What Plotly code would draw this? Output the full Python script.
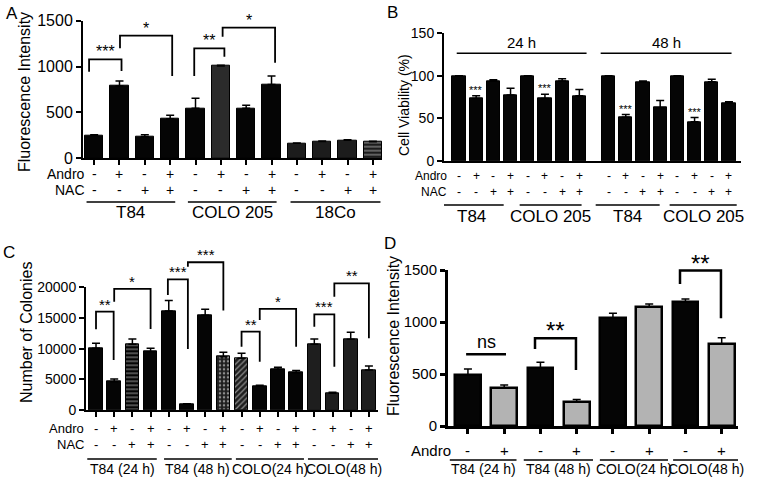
import plotly.graph_objects as go

W, H = 758, 486
FONT = "Liberation Sans, Arial, sans-serif"

# ---------------- data ----------------
# A: ROS fluorescence
a_mean = [248, 788, 236, 430, 545, 1005, 545, 805, 164, 183, 197, 180]
a_err = [8, 55, 22, 40, 110, 8, 32, 92, 4, 5, 4, 5]
a_andro = ["-", "+", "-", "+"] * 3
a_nac = ["-", "-", "+", "+"] * 3
a_groups = ["T84", "COLO 205", "18Co"]
a_ticks = [0, 500, 1000, 1500]
a_brackets = [(-0.2, 1.08, 1079, 944, 952, "***"),
              (1.02, 3.08, 1337, 1199, 897, "*"),
              (3.95, 5.14, 1199, 897, 1107, "**"),
              (5.07, 7.14, 1424, 1326, 1042, "*")]

# B: cell viability
b_mean = [100, 73.5, 94, 77.5, 100, 73.5, 94, 76.5,
          100, 51.5, 93, 62.5, 100, 46, 93, 68]
b_err = [0, 3, 1.5, 8, 0, 5, 2.5, 7.5, 0, 3, 1, 8.5, 0, 5, 3, 1.5]
b_andro = ["-", "+", "-", "+"] * 4
b_nac = ["-", "-", "+", "+"] * 4
b_groups = ["T84", "COLO 205", "T84", "COLO 205"]
b_times = ["24 h", "48 h"]
b_sig = [1, 5, 9, 13]
b_ticks = [0, 50, 100, 150]

# C: colony numbers
c_mean = [10050, 4620, 10700, 9510, 16140, 920, 15430, 8700,
          8420, 3910, 6630, 6090, 10710, 2720, 11520, 6520]
c_err = [820, 430, 870, 540, 1690, 110, 980, 700,
         820, 110, 330, 330, 870, 160, 1140, 650]
c_andro = ["-", "+", "-", "+"] * 4
c_nac = ["-", "-", "+", "+"] * 4
c_groups = ["T84 (24 h)", "T84 (48 h)", "COLO(24 h)", "COLO(48 h)"]
c_ticks = [0, 5000, 10000, 15000, 20000]
c_brackets = [(0, 0.97, 16030, 13150, 8150, "**"),
              (1.0, 3.0, 19730, 17660, 13200, "*"),
              (3.95, 5.05, 21300, 18750, 9950, "***"),
              (5.05, 7.0, 24080, 23370, 16200, "***"),
              (8.0, 9.0, 12770, 10330, 7880, "**"),
              (9.0, 11.0, 16470, 14670, 10330, "*"),
              (12.0, 13.1, 15600, 13590, 7070, "***"),
              (13.1, 15.0, 20650, 18480, 11690, "**")]

# D: fluorescence, Andro only
d_mean = [492, 362, 561, 234, 1035, 1141, 1195, 785]
d_err = [57, 32, 51, 22, 48, 32, 26, 64]
d_andro = ["-", "+"] * 4
d_groups = ["T84 (24 h)", "T84 (48 h)", "COLO(24 h)", "COLO(48 h)"]
d_ticks = [0, 500, 1000, 1500]
d_brackets = [(-0.05, 1.05, 690, 690, 690, "ns"),
              (1.85, 2.98, 843, 740, 538, "**"),
              (5.85, 6.98, 1494, 1365, 1035, "**")]

fig = go.Figure()


def px_y(p):
    return 1 - p / H


def add_bars(xa, ya, x, mean, err, colors, width, lw=1, pshape=None,
             pfg=None, pbg=None):
    marker = dict(color=colors, line=dict(color="black", width=lw))
    if pshape:
        marker["pattern"] = dict(shape=pshape, fgcolor=pfg, bgcolor=pbg,
                                 fillmode="overlay", size=4, solidity=0.3)
    fig.add_trace(go.Bar(
        x=x, y=mean, width=width, marker=marker, xaxis=xa, yaxis=ya,
        error_y=dict(type="data", array=err, arrayminus=[0] * len(err),
                     symmetric=False, color="black", thickness=1.5, width=4),
        showlegend=False, hoverinfo="skip",
    ))


def add_bracket(xa, ya, ymax, br, size, lw=1.8, shift=-3):
    x0, x1, yt, yl, yr, txt = br
    yd = f"{ya} domain"
    fig.add_shape(type="path", xref=xa, yref=yd,
                  path=f"M {x0},{yl / ymax} L {x0},{yt / ymax} "
                       f"L {x1},{yt / ymax} L {x1},{yr / ymax}",
                  line=dict(color="black", width=lw))
    fig.add_annotation(x=(x0 + x1) / 2, y=yt / ymax, xref=xa, yref=yd,
                       text=txt, showarrow=False, yanchor="bottom",
                       yshift=shift, font=dict(size=size, color="black"))


def add_rows(xa, x, rows, names, ys, size, name_x):
    for vals, name, yp in zip(rows, names, ys):
        fig.add_annotation(x=name_x, y=px_y(yp), xref=f"{xa} domain",
                           yref="paper", text=name, showarrow=False,
                           xanchor="right", yanchor="middle", borderpad=0,
                           font=dict(size=size, color="black"))
        for xi, v in zip(x, vals):
            fig.add_annotation(x=xi, y=px_y(yp), xref=xa, yref="paper",
                               text=v, showarrow=False, yanchor="middle",
                               borderpad=0,
                               font=dict(size=size, color="black"))


def add_groups(xa, spans, labels, line_y, text_y, size):
    for (s, e), lab in zip(spans, labels):
        fig.add_shape(type="line", xref=xa, yref="paper", x0=s, x1=e,
                      y0=px_y(line_y), y1=px_y(line_y),
                      line=dict(color="black", width=1.5))
        fig.add_annotation(x=(s + e) / 2, y=px_y(text_y), xref=xa,
                           yref="paper", text=lab, showarrow=False,
                           yanchor="middle", borderpad=0,
                           font=dict(size=size, color="black"))


# ---------- Panel A ----------
a_x = list(range(len(a_mean)))
a_col = ["#050505"] * 5 + ["#2b2b2b"] + ["#050505"] * 2 + ["#1c1c1c"] * 4
add_bars("x", "y", a_x, a_mean, a_err, a_col, 0.72,
         pshape=[""] * 11 + ["-"], pfg=["#4a4a4a"] * 12, pbg=a_col)
for br in a_brackets:
    add_bracket("x", "y", 1500, br, 16)
add_rows("x", a_x, [a_andro, a_nac], ["Andro", "NAC"], [174, 190], 14, 0.01)
add_groups("x", [(-0.3, 3.2), (3.7, 7.2), (7.75, 11.3)], a_groups, 202, 212, 17)

# ---------- Panel B ----------
b_x = [i + (0.7 if i >= 8 else 0) for i in range(len(b_mean))]
add_bars("x2", "y2", b_x, b_mean, b_err, ["#050505"] * 16, 0.77)
for i in b_sig:
    fig.add_annotation(x=b_x[i], y=b_mean[i] + b_err[i], xref="x2", yref="y2",
                       text="***", showarrow=False, yanchor="bottom",
                       yshift=-2, font=dict(size=11, color="black"))
for (s, e), lab in zip([(-0.13, 7.42), (8.24, 15.85)], b_times):
    fig.add_shape(type="line", xref="x2", yref="y2", x0=s, x1=e,
                  y0=126.5, y1=126.5, line=dict(color="black", width=1.5))
    fig.add_annotation(x=(s + e) / 2, y=126.5, xref="x2", yref="y2",
                       text=lab, showarrow=False, yanchor="bottom",
                       font=dict(size=15, color="black"))
add_rows("x2", b_x, [b_andro, b_nac], ["Andro", "NAC"], [176, 192], 12, 0.015)
add_groups("x2", [(-1.12, 2.6), (3.53, 7.13), (7.95, 11.67), (12.25, 16.15)],
           b_groups, 205, 216, 17)

# ---------- Panel C ----------
c_x = list(range(len(c_mean)))
c_col = ["#050505"] * 7 + ["#1e1e1e"] * 2 + ["#050505"] * 3 + ["#1e1e1e"] * 4
c_pat = ["", "", "-", "", "", "", "", ".", "/", "", "", "", "", "", "", ""]
c_fg = ["#444"] * 7 + ["#3a3a3a"] + ["#444"] * 8
add_bars("x3", "y3", c_x, c_mean, c_err, c_col, 0.75,
         pshape=c_pat, pfg=c_fg, pbg=c_col)
for br in c_brackets:
    add_bracket("x3", "y3", 20000, br, 15)
add_rows("x3", c_x, [c_andro, c_nac], ["Andro", "NAC"], [428, 444], 13, -0.003)
add_groups("x3", [(-0.48, 3.34), (3.74, 7.46), (7.69, 11.43), (11.65, 15.6)],
           c_groups, 459, 469, 14)

# ---------- Panel D ----------
d_x = list(range(len(d_mean)))
d_col = ["#050505", "#b3b3b3"] * 4
add_bars("x4", "y4", d_x, d_mean, d_err, d_col, 0.71, lw=2.5)
for br in d_brackets:
    add_bracket("x4", "y4", 1500, br, 24 if br[5] == "**" else 18, lw=2.5,
                shift=-8 if br[5] == "**" else 0)
add_rows("x4", d_x, [d_andro], ["Andro"], [450], 15, 0.013)
add_groups("x4", [(-0.5, 1.34), (1.54, 3.45), (3.64, 5.52), (5.66, 7.45)],
           d_groups, 460, 469, 14)


# ---------- axes ----------
def xaxis(dom, rng, ticks, anchor, lw=2):
    return dict(domain=[dom[0] / W, dom[1] / W], range=rng, anchor=anchor,
                showgrid=False, zeroline=False, showline=True,
                linecolor="black", linewidth=lw, automargin=False,
                ticks="outside" if ticks else "", ticklen=5, tickwidth=lw,
                tickcolor="black", tickvals=ticks, showticklabels=False,
                fixedrange=True)


def yaxis(top, bot, rng, tickvals, size, anchor, lw=2):
    return dict(domain=[px_y(bot), px_y(top)], range=rng, anchor=anchor,
                showgrid=False, zeroline=False, showline=True,
                linecolor="black", linewidth=lw, ticks="outside", ticklen=5,
                tickwidth=lw, tickcolor="black", tickvals=tickvals,
                ticktext=[str(v) for v in tickvals], automargin=False,
                tickfont=dict(size=size, color="black"), fixedrange=True)


fig.update_layout(
    xaxis=xaxis((83, 382), [-0.44, 11.36], a_x, "y"),
    yaxis=yaxis(20.7, 158.3, [0, 1500], a_ticks, 16, "x"),
    xaxis2=xaxis((444, 741), [-0.87, 16.4], None, "y2"),
    yaxis2=yaxis(33.3, 161, [0, 150], b_ticks, 14, "x2"),
    xaxis3=xaxis((86, 378), [-0.55, 15.5], c_x, "y3"),
    yaxis3=yaxis(287.3, 410, [0, 20000], c_ticks, 14, "x3"),
    xaxis4=xaxis((448, 738), [-0.55, 7.45], d_x, "y4", lw=3),
    yaxis4=yaxis(270, 426, [0, 1500], d_ticks, 15, "x4", lw=3),
)

# y titles and panel letters
for txt, x, y, size in [("Fluorescence Intensity", 24, 92, 16),
                        ("Cell Viability (%)", 404, 105, 14),
                        ("Number of Colonies", 26, 333, 16),
                        ("Fluorescence Intensity", 393, 336, 16)]:
    fig.add_annotation(x=x / W, y=px_y(y), xref="paper", yref="paper",
                       text=txt, textangle=-90, showarrow=False,
                       xanchor="center", yanchor="middle",
                       font=dict(size=size, color="black"))
for txt, x, y in [("A", 12, 13), ("B", 392, 12), ("C", 9, 252), ("D", 390, 243)]:
    fig.add_annotation(x=x / W, y=px_y(y), xref="paper", yref="paper",
                       text=txt, showarrow=False, xanchor="center",
                       yanchor="middle", font=dict(size=17, color="black"))

fig.update_layout(
    width=W, height=H, margin=dict(l=0, r=0, t=0, b=0, autoexpand=False),
    paper_bgcolor="white", plot_bgcolor="white", bargap=0,
    font=dict(family=FONT, color="black"),
)

# page has a default body margin; drop it so the figure sits at (0, 0)
fig.write_html("out.html", config={"displayModeBar": False},
               post_script="document.body.style.margin = '0';")
